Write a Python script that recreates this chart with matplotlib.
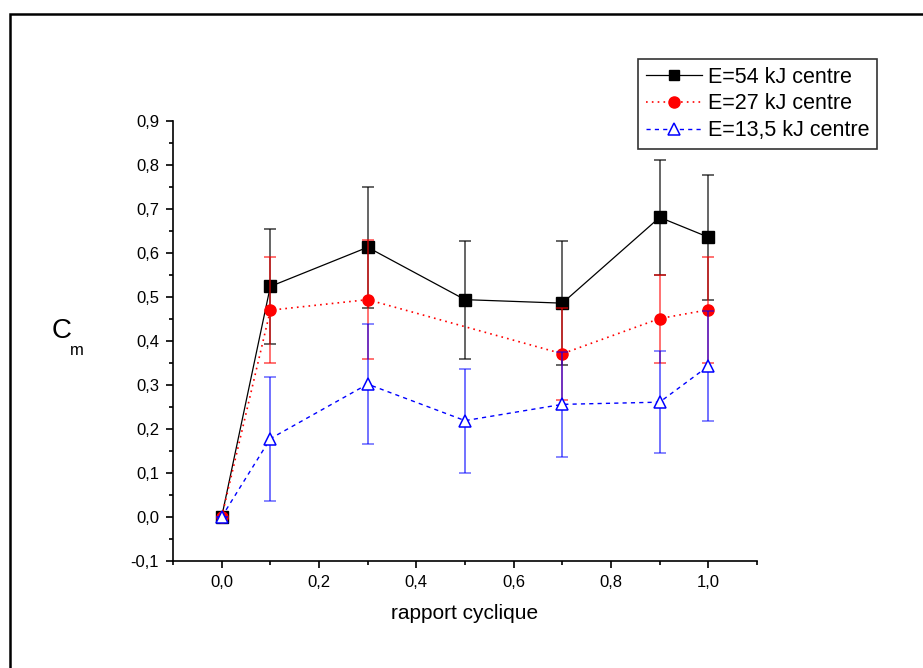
import matplotlib
matplotlib.use("Agg")
import matplotlib.pyplot as plt
from matplotlib.patches import Rectangle
from matplotlib.lines import Line2D
from matplotlib.ticker import MultipleLocator, FuncFormatter

plt.rcParams['font.family'] = ['Liberation Sans', 'DejaVu Sans']

x_54 = [0.0, 0.1, 0.3, 0.5, 0.7, 0.9, 1.0]
y_54 = [0.0, 0.524, 0.613, 0.494, 0.486, 0.681, 0.636]
e_54 = [0.0, 0.13, 0.137, 0.134, 0.141, 0.13, 0.142]

x_27 = [0.0, 0.1, 0.3, 0.7, 0.9, 1.0]
y_27 = [0.0, 0.470, 0.494, 0.371, 0.451, 0.471]
e_27 = [0.0, 0.12, 0.136, 0.105, 0.10, 0.12]

x_13 = [0.0, 0.1, 0.3, 0.5, 0.7, 0.9, 1.0]
y_13 = [0.0, 0.178, 0.302, 0.219, 0.256, 0.261, 0.343]
e_13 = [0.0, 0.141, 0.137, 0.118, 0.12, 0.116, 0.125]

labels = ["E=54 kJ centre", "E=27 kJ centre", "E=13,5 kJ centre"]

fig = plt.figure(figsize=(9.23, 6.68), dpi=100)
ax = fig.add_axes([173/923, 1-561/668, 584/923, 440/668])

s54 = dict(color='black', lw=0.9, ls='-', marker='s', ms=8, mfc='black', mec='black')
s27 = dict(color='red', lw=1.2, ls=(0, (1, 2.5)), marker='o', ms=8, mfc='red', mec='red')
s13 = dict(color='blue', lw=1.0, ls=(0, (3, 3)), marker='^', ms=9, mfc='white',
           mec='blue', mew=1.1)

eb = dict(elinewidth=1.3, capsize=4, capthick=1.3)
ax.errorbar(x_54, y_54, yerr=e_54, ecolor=(0, 0, 0, 0.65), zorder=3, **eb, **s54)
ax.errorbar(x_27, y_27, yerr=e_27, ecolor=(1, 0, 0, 0.6), zorder=4, **eb, **s27)
ax.errorbar(x_13, y_13, yerr=e_13, ecolor=(0, 0, 1, 0.6), zorder=5, **eb, **s13)

ax.set_xlim(-0.1, 1.1)
ax.set_ylim(-0.1, 0.9)
for s in ['top', 'right']:
    ax.spines[s].set_visible(False)
for s in ['left', 'bottom']:
    ax.spines[s].set_linewidth(1.2)

ax.xaxis.set_major_locator(MultipleLocator(0.2))
ax.xaxis.set_minor_locator(MultipleLocator(0.1))
ax.yaxis.set_major_locator(MultipleLocator(0.1))
ax.yaxis.set_minor_locator(MultipleLocator(0.05))
fmt = FuncFormatter(lambda v, p: ("%.1f" % v).replace('.', ',').replace('-0,0', '0,0'))
ax.xaxis.set_major_formatter(fmt)
ax.yaxis.set_major_formatter(fmt)
ax.tick_params(which='major', direction='out', length=5, width=1.2, labelsize=12, pad=5)
ax.tick_params(which='minor', direction='out', length=3, width=1.2)

ax.set_xlabel("rapport cyclique", fontsize=15, labelpad=10)
fig.text(62/923, 1-331/668, "C", fontsize=20, ha='center', va='center')
fig.text(77/923, 1-351/668, "m", fontsize=12, ha='center', va='center')

handles = [Line2D([], [], **{**s54, 'ms': 7}),
           Line2D([], [], **{**s27, 'ms': 8}),
           Line2D([], [], **{**s13, 'ms': 9})]
leg = ax.legend(handles, labels, loc='upper left', bbox_to_anchor=(638/923, 1-59/668),
                bbox_transform=fig.transFigure, fontsize=15.5, frameon=True,
                fancybox=False, borderpad=0.35, labelspacing=0.27,
                handlelength=2.6, handletextpad=0.3, borderaxespad=0)
leg.get_frame().set_edgecolor('black')
leg.get_frame().set_linewidth(1.2)

fig.add_artist(Rectangle((10/923, -0.2), 1.5, 1.2 - 14/668, transform=fig.transFigure,
                         fill=False, lw=1.8, edgecolor='black'))

fig.savefig("out.png", dpi=100)
